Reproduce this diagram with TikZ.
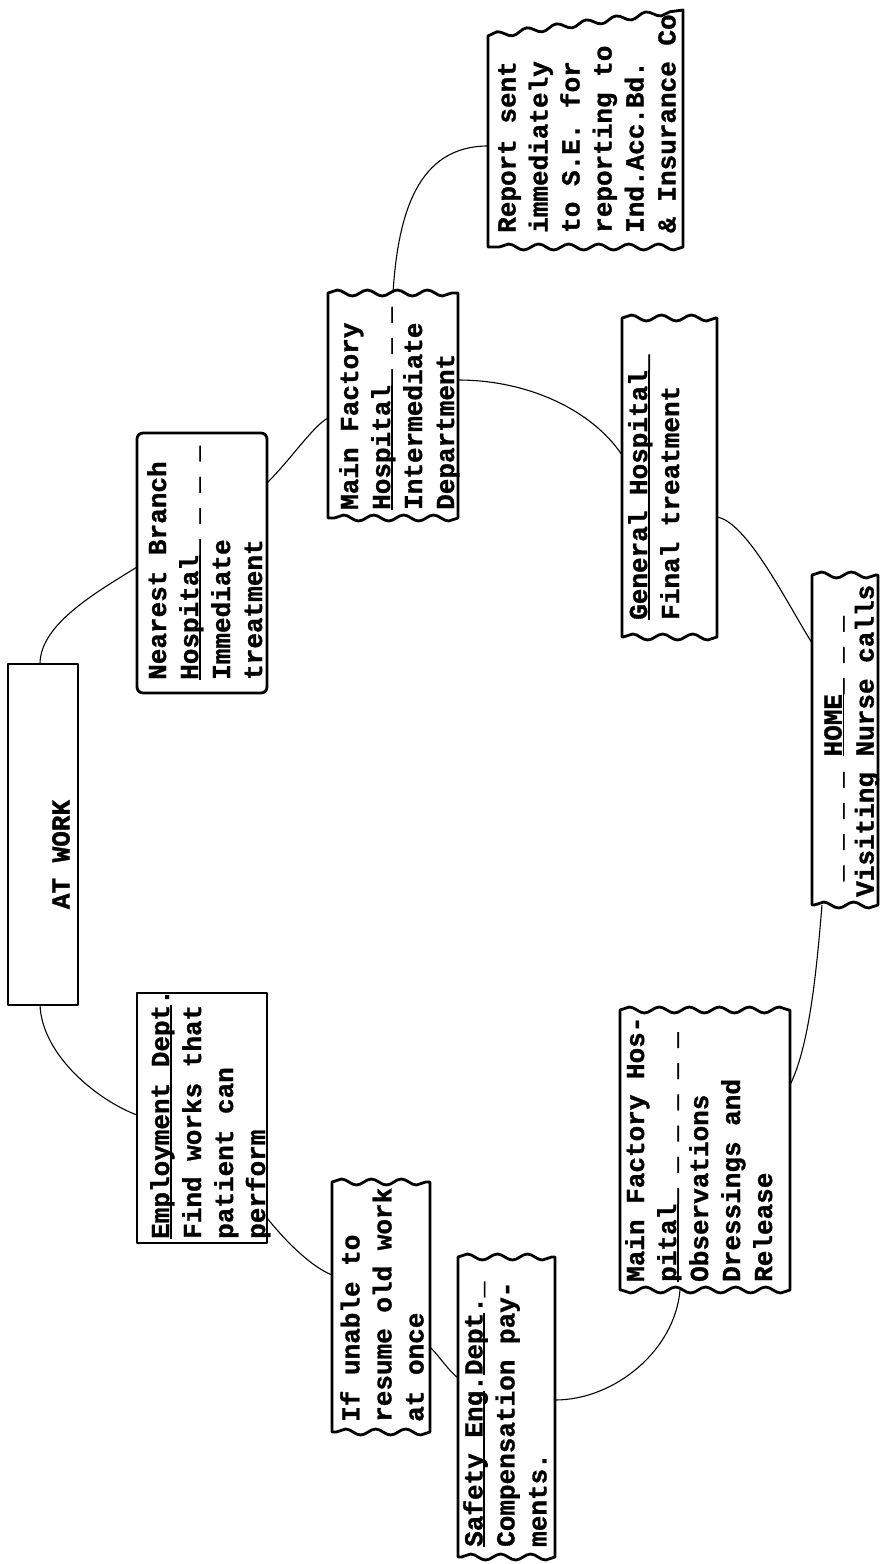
\documentclass[tikz,border=0pt]{standalone}
\usepackage{fontspec}
\newfontfamily\twfont[BoldFeatures={FakeBold=1.2}]{Liberation Mono}
\usetikzlibrary{decorations.pathmorphing}
\newcommand\ulx[1]{\setbox0\hbox{#1}\setbox2\hbox{\_}\rlap{\rule[-\dp2]{\wd0}{0.07em}}\box0}
\newcommand\boxflat[1]{\draw[boxline] (#1.north west) rectangle (#1.south east);}
\newcommand\boxwavy[1]{\draw[boxline] (#1.north west) decorate[wave]{-- (#1.north east)} -- (#1.south east) decorate[wave]{-- (#1.south west)} -- cycle;}
\tikzset{
  boxline/.style={line width=2.8pt, line join=round, line cap=round},
  wave/.style={decoration={snake, segment length=30pt, amplitude=3pt}},
  conn/.style={line width=1.1pt},
  frame/.style={rectangle, inner sep=0pt, outer sep=0pt, draw=none},
  txt/.style={rotate=90, anchor=north west, inner sep=0pt, align=left, font=\twfont\bfseries\fontsize{26}{32}\selectfont},
}
\begin{document}
\frenchspacing
\begin{tikzpicture}[x=1pt, y=-1pt]
\useasboundingbox (0,0) rectangle (882,1564);
% box frames
\node[frame, minimum width=70pt,  minimum height=341pt] (atwork) at (43,834.5) {};
\node[frame, minimum width=130pt, minimum height=260pt] (nb)     at (202,563) {};
\node[frame, minimum width=130pt, minimum height=225pt] (mfa)    at (393,405.5) {};
\node[frame, minimum width=195pt, minimum height=237pt] (rep)    at (585.5,128.5) {};
\node[frame, minimum width=95pt,  minimum height=319pt] (gen)    at (669.5,477.5) {};
\node[frame, minimum width=66pt,  minimum height=330pt] (home)   at (845,740) {};
\node[frame, minimum width=170pt, minimum height=280pt] (mfb)    at (705,1150) {};
\node[frame, minimum width=98pt,  minimum height=250pt] (unable) at (381,1307) {};
\node[frame, minimum width=97pt,  minimum height=300pt] (safety) at (506.5,1407) {};
\node[frame, minimum width=130pt, minimum height=250pt] (emp)    at (202,1118) {};
% outlines
\boxflat{atwork}
\draw[boxline, rounded corners=6pt] (nb.north west) rectangle (nb.south east);
\boxwavy{mfa}
\draw[boxline] ([yshift=-26pt]rep.north west) decorate[wave]{-- (rep.north east)} -- (rep.south east) decorate[wave]{-- (rep.south west)} -- cycle;
\boxwavy{gen}
\boxwavy{home}
\boxwavy{mfb}
\boxwavy{unable}
\boxwavy{safety}
\boxflat{emp}
% texts
\node[txt, anchor=center] (atworkt) at ([xshift=18pt,yshift=-20pt]atwork.center) {AT WORK};
\node[txt] (nbt) at ([xshift=10pt,yshift=13pt]nb.south west) {Nearest Branch\\\ulx{Hospital}\_ \_ \_ \_\\Immediate\\treatment};
\node[txt] (mfat) at ([xshift=11pt,yshift=8pt]mfa.south west) {Main Factory\\\ulx{Hospital}\_ \_ \_\\Intermediate\\Department};
\node[txt] (rept) at ([xshift=10pt,yshift=14pt]rep.south west) {Report sent\\immediately\\to S.E. for\\reporting to\\Ind.Acc.Bd.\\\& Insurance Co};
\node[txt] (gent) at ([xshift=6pt,yshift=17pt]gen.south west) {\ulx{General~Hospital}\_\\Final treatment};
\node[txt] (homet) at ([xshift=12pt,yshift=8pt]home.south west) {~\_ \_ \_ \_ \ulx{HOME}\_ \_ \_\\Visiting Nurse calls};
\node[txt] (mfbt) at ([xshift=5pt,yshift=8pt]mfb.south west) {Main Factory Hos-\\\ulx{pital}\_ \_ \_ \_ \_ \_\\Observations\\Dressings and\\Release};
\node[txt] (unablet) at ([xshift=8pt,yshift=10pt]unable.south west) {If unable to\\resume old work\\at once};
\node[txt] (safetyt) at ([xshift=5pt,yshift=10pt]safety.south west) {\ulx{Safety~Eng}.\ulx{Dept}.\_\\Compensation pay-\\ments.};
\node[txt] (empt) at ([xshift=13pt,yshift=4pt]emp.south west) {\ulx{Employment~Dept}.\\Find works that\\patient can\\perform};
% connectors
\draw[conn] ([xshift=-3pt]atwork.north) .. controls +(0,-40) and +(-40,25) .. ([yshift=-4pt]nb.west);
\draw[conn] ([yshift=80pt]nb.east) .. controls +(25,-25) and +(-15,8) .. ([yshift=-12.5pt]mfa.west);
\draw[conn] (mfa.north) .. controls +(5,-80) and +(-70,0) .. ([yshift=-17.5pt]rep.west);
\draw[conn] ([yshift=25.5pt]mfa.east) .. controls +(70,0) and +(-30,-45) .. ([yshift=22.5pt]gen.west);
\draw[conn] ([yshift=-39.5pt]gen.east) .. controls +(30,5) and +(-25,-40) .. ([yshift=97pt]home.west);
\draw[conn] ([xshift=-23pt]home.south) .. controls +(-5,60) and +(20,-40) .. ([yshift=65pt]mfb.east);
\draw[conn] ([xshift=-25pt]mfb.south) .. controls +(-5,60) and +(60,0) .. ([yshift=7pt]safety.east);
\draw[conn] ([yshift=-40pt]unable.east) .. controls +(10,10) and +(-10,-8) .. ([yshift=29pt]safety.west);
\draw[conn] ([yshift=-100pt]emp.east) .. controls +(20,25) and +(-20,-8) .. ([yshift=32pt]unable.west);
\draw[conn] ([xshift=-3pt]atwork.south) .. controls +(2,50) and +(-40,-15) .. ([yshift=3pt]emp.west);
\end{tikzpicture}
\end{document}
